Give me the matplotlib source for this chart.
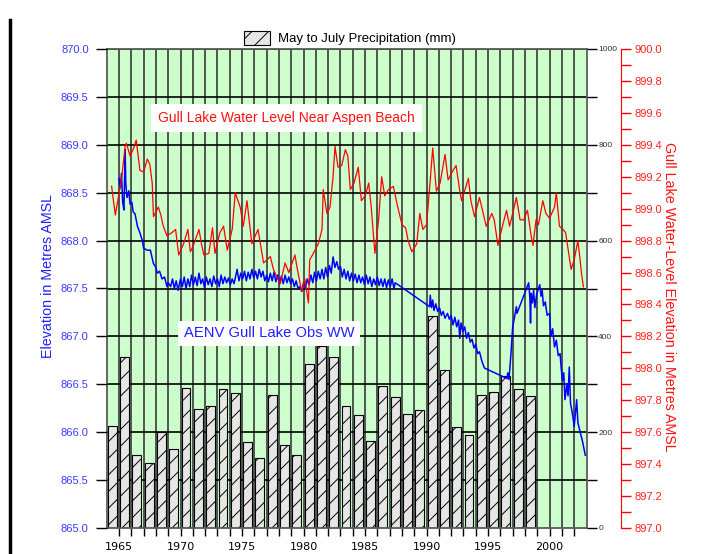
import matplotlib
matplotlib.use("Agg")
import matplotlib.pyplot as plt
from matplotlib.patches import Patch
from matplotlib.lines import Line2D
import numpy as np

plt.rcParams['font.family'] = ['Liberation Sans', 'DejaVu Sans']
plt.rcParams['hatch.linewidth'] = 0.7

# May to July precipitation (mm), one bar per year
precip_years = list(range(1964, 1999))
precip_mm = [213, 358, 152, 135, 201, 164, 292, 249, 255, 290,
             282, 179, 146, 278, 173, 152, 342, 379, 358, 255,
             236, 182, 297, 273, 237, 246, 443, 330, 211, 194,
             277, 284, 317, 291, 276]

# AENV Gull Lake Obs WW (left axis, m AMSL)
obs_year = [1965.0, 1965.1, 1965.2, 1965.3, 1965.4, 1965.5, 1965.55, 1965.65, 1965.8, 1965.9,
            1966.05, 1966.15, 1966.3, 1966.5, 1966.7, 1966.9, 1967.0, 1967.3, 1967.55, 1967.8,
            1968.0, 1968.1, 1968.3, 1968.5, 1968.7, 1968.9, 1969.0, 1969.2, 1969.35, 1969.5,
            1969.65, 1969.8, 1970.0, 1970.15, 1970.3, 1970.45, 1970.6, 1970.75, 1970.9, 1971.05,
            1971.2, 1971.35, 1971.5, 1971.65, 1971.8, 1971.95, 1972.1, 1972.25, 1972.4, 1972.55,
            1972.7, 1972.85, 1973.0, 1973.15, 1973.3, 1973.45, 1973.6, 1973.75, 1973.9, 1974.05,
            1974.2, 1974.35, 1974.6, 1974.75, 1974.9, 1975.05, 1975.2, 1975.35, 1975.5, 1975.65,
            1975.8, 1975.95, 1976.1, 1976.25, 1976.4, 1976.55, 1976.7, 1976.85, 1977.0, 1977.15,
            1977.3, 1977.45, 1977.6, 1977.75, 1977.9, 1978.05, 1978.2, 1978.35, 1978.5, 1978.65,
            1978.8, 1978.95, 1979.1, 1979.25, 1979.4, 1979.55, 1979.7, 1979.85, 1980.0, 1980.15,
            1980.3, 1980.45, 1980.6, 1980.75, 1980.9, 1981.05, 1981.2, 1981.35, 1981.5, 1981.65,
            1981.8, 1981.95, 1982.1, 1982.25, 1982.4, 1982.55, 1982.7, 1982.85, 1983.0, 1983.15,
            1983.3, 1983.45, 1983.6, 1983.75, 1983.9, 1984.05, 1984.2, 1984.35, 1984.5, 1984.65,
            1984.8, 1984.95, 1985.1, 1985.25, 1985.4, 1985.55, 1985.7, 1985.85, 1986.0, 1986.15,
            1986.3, 1986.45, 1986.6, 1986.75, 1986.9, 1987.05, 1987.2, 1987.35, 1987.45,
            1990.25, 1990.3, 1990.4, 1990.5, 1990.6, 1990.75, 1990.9, 1991.05, 1991.2, 1991.35,
            1991.5, 1991.7, 1991.85, 1992.0, 1992.15, 1992.3, 1992.45, 1992.6, 1992.7, 1992.8,
            1992.95, 1993.1, 1993.25, 1993.4, 1993.55, 1993.7, 1993.85, 1994.0, 1994.15, 1994.3,
            1994.5, 1994.7,
            1996.55, 1996.6, 1996.7, 1996.85, 1997.0, 1997.15, 1997.3, 1997.35,
            1998.3, 1998.4, 1998.45, 1998.5, 1998.6, 1998.7, 1998.8, 1998.95, 1999.1, 1999.2,
            1999.3, 1999.4, 1999.5, 1999.65, 1999.8, 2000.0, 2000.1, 2000.25, 2000.4, 2000.55,
            2000.7, 2000.85, 2000.95, 2001.05, 2001.15, 2001.25, 2001.4, 2001.5, 2001.6, 2001.7,
            2001.85, 2002.0, 2002.1, 2002.2, 2002.3, 2002.45, 2002.6, 2002.7, 2002.9]
obs_level = [868.65, 868.55, 868.70, 868.40, 868.32, 868.95, 868.60, 868.45, 868.52, 868.38,
             868.40, 868.30, 868.28, 868.15, 868.08, 868.00, 867.92, 867.90, 867.90, 867.76,
             867.72, 867.66, 867.68, 867.60, 867.62, 867.52, 867.56, 867.52, 867.60, 867.50,
             867.58, 867.48, 867.60, 867.52, 867.62, 867.50, 867.60, 867.52, 867.64, 867.54,
             867.62, 867.53, 867.66, 867.55, 867.60, 867.51, 867.62, 867.54, 867.60, 867.52,
             867.63, 867.55, 867.60, 867.52, 867.64, 867.55, 867.62, 867.56, 867.61, 867.54,
             867.60, 867.55, 867.70, 867.58, 867.66, 867.60, 867.68, 867.58, 867.67, 867.60,
             867.70, 867.61, 867.68, 867.60, 867.70, 867.62, 867.68, 867.58, 867.64, 867.57,
             867.66, 867.58, 867.67, 867.57, 867.64, 867.55, 867.63, 867.55, 867.64, 867.56,
             867.62, 867.55, 867.60, 867.52, 867.58, 867.50, 867.52, 867.47, 867.56, 867.50,
             867.60, 867.54, 867.64, 867.56, 867.67, 867.58, 867.68, 867.60, 867.70, 867.60,
             867.72, 867.62, 867.74, 867.66, 867.83, 867.72, 867.78, 867.70, 867.73, 867.62,
             867.70, 867.60, 867.68, 867.58, 867.66, 867.58, 867.65, 867.56, 867.64, 867.56,
             867.62, 867.54, 867.64, 867.55, 867.62, 867.52, 867.60, 867.54, 867.62, 867.53,
             867.60, 867.52, 867.60, 867.51, 867.59, 867.52, 867.60, 867.50, 867.56,
             867.31, 867.43, 867.30, 867.38, 867.27, 867.34, 867.26, 867.30, 867.22, 867.26,
             867.19, 867.24, 867.18, 867.22, 867.12, 867.20, 867.10, 867.17, 866.98, 867.14,
             867.05, 867.10, 866.98, 867.04, 866.94, 866.97, 866.88, 866.92, 866.82, 866.84,
             866.74, 866.67,
             866.56, 866.62, 866.55, 866.80, 867.10, 867.20, 867.31, 867.24,
             867.56, 867.40, 867.14, 867.45, 867.35, 867.48, 867.30, 867.44, 867.50, 867.54,
             867.42, 867.48, 867.32, 867.36, 867.22, 867.24, 867.00, 867.08, 866.89, 866.96,
             866.80, 866.82, 866.66, 866.54, 866.62, 866.34, 866.50, 866.38, 866.68, 866.30,
             866.20, 866.06, 866.20, 866.34, 866.10, 866.02, 865.94, 865.89, 865.76]

# Gull Lake water level near Aspen Beach (right axis, m AMSL)
lake_year = [1964.4, 1964.7, 1964.9, 1965.2, 1965.5, 1965.6, 1965.9, 1966.2, 1966.4, 1966.7,
             1967.0, 1967.3, 1967.5, 1967.7, 1967.8, 1968.0, 1968.2, 1968.4, 1968.6, 1968.9,
             1969.3, 1969.6, 1969.85, 1970.25, 1970.6, 1970.8, 1971.0, 1971.5, 1971.7, 1971.9,
             1972.3, 1972.6, 1972.8, 1973.2, 1973.5, 1973.8, 1974.2, 1974.45, 1974.85, 1975.1,
             1975.4, 1975.8, 1976.3, 1976.75, 1977.3, 1977.55, 1978.1, 1978.5, 1978.8, 1979.3,
             1979.5, 1979.85, 1980.1, 1980.4, 1980.5, 1980.8, 1981.2, 1981.5, 1981.6, 1981.9,
             1982.15, 1982.4, 1982.56, 1982.8, 1983.1, 1983.4, 1983.6, 1983.8, 1984.1, 1984.45,
             1984.7, 1985.0, 1985.3, 1985.5, 1985.8, 1986.1, 1986.35, 1986.6, 1986.9, 1987.3,
             1987.6, 1988.0, 1988.3, 1988.5, 1988.8, 1989.2, 1989.45, 1989.7, 1990.0, 1990.3,
             1990.5, 1990.8, 1991.1, 1991.5, 1991.75, 1992.15, 1992.4, 1992.7, 1992.85, 1993.4,
             1993.6, 1993.9, 1994.3, 1994.85, 1995.3, 1995.5, 1995.8, 1996.1, 1996.5, 1996.75,
             1997.3, 1997.6, 1997.9, 1998.2, 1998.5, 1998.65, 1998.9, 1999.1, 1999.45, 1999.7,
             2000.0, 2000.4, 2000.55, 2000.8, 2001.1, 2001.3, 2001.75, 2002.0, 2002.3, 2002.45,
             2002.6, 2002.75]
lake_level = [899.14, 898.96, 899.05, 899.18, 899.39, 899.41, 899.33, 899.38, 899.43, 899.24,
              899.23, 899.31, 899.28, 899.16, 898.95, 898.98, 899.01, 898.96, 898.89, 898.83,
              898.85, 898.87, 898.71, 898.78, 898.87, 898.73, 898.76, 898.87, 898.78, 898.71,
              898.72, 898.88, 898.72, 898.85, 898.89, 898.74, 898.87, 899.10, 899.01, 898.89,
              899.05, 898.78, 898.87, 898.66, 898.70, 898.62, 898.53, 898.66, 898.60, 898.71,
              898.62, 898.48, 898.56, 898.41, 898.68, 898.72, 898.78, 898.87, 899.12, 898.97,
              899.01, 899.20, 899.39, 899.26, 899.27, 899.37, 899.33, 899.12, 899.16, 899.26,
              899.05, 899.08, 899.16, 899.01, 898.72, 898.93, 899.20, 899.08, 899.12, 899.14,
              899.03, 898.90, 898.88, 898.80, 898.73, 898.78, 898.97, 898.87, 898.90, 899.18,
              899.38, 899.11, 899.16, 899.34, 899.18, 899.24, 899.27, 899.11, 899.05, 899.19,
              899.05, 898.95, 899.07, 898.89, 898.97, 898.93, 898.77, 898.87, 898.99, 898.89,
              899.07, 898.93, 898.93, 898.99, 898.83, 898.77, 898.93, 898.90, 899.05, 898.97,
              898.94, 899.01, 899.10, 898.89, 898.87, 898.85, 898.62, 898.68, 898.80, 898.70,
              898.59, 898.51]

W, H = 707, 554
fig = plt.figure(figsize=(W / 100, H / 100), dpi=100)
fig.patch.set_facecolor('white')

left, right, top, bottom = 106.7, 586.5, 49, 528
rect = [left / W, 1 - bottom / H, (right - left) / W, (bottom - top) / H]

# bar axis (drawn at the back, holds the green background + grid)
axb = fig.add_axes(rect)
axb.set_facecolor('#ccffcc')
axb.set_xlim(1964, 2003)
axb.set_ylim(0, 1000)

for yr in range(1965, 2003):
    axb.axvline(yr, color='#2a2a2a', lw=1.1, zorder=1)
for mm in range(100, 1001, 100):
    axb.axhline(mm, color='black', lw=1.2, zorder=1)

axb.bar(np.array(precip_years) + 0.45, precip_mm, width=0.72, color='#e6e6e6',
        edgecolor='black', hatch='//', lw=0.8, zorder=2)

axb.yaxis.tick_right()
axb.set_yticks(range(0, 1001, 200))
axb.set_yticks(range(100, 1000, 200), minor=True)
axb.tick_params(axis='y', which='both', direction='out', length=7, width=1,
                labelsize=6, labelcolor='#333333', pad=1.5)
axb.tick_params(axis='y', which='both', labelleft=False, left=False)

axb.set_xticks(range(1965, 2001, 5))
axb.set_xticks(range(1965, 2003), minor=True)
axb.tick_params(axis='x', which='both', direction='out', length=6, width=1, pad=4)
for lab in axb.get_xticklabels():
    lab.set_family('DejaVu Sans')
    lab.set_fontsize(8)

for sp in axb.spines.values():
    sp.set_color('#5a5a5a')
    sp.set_linewidth(1.3)

# left axis: observation well
ax = fig.add_axes(rect, sharex=axb)
ax.patch.set_visible(False)
ax.set_ylim(865, 870)
ax.plot(obs_year, obs_level, color='#0000ff', lw=1.1, zorder=3)
ax.set_yticks(np.arange(865, 870.01, 0.5))
ax.set_yticklabels([f'{v:.1f}' for v in np.arange(865, 870.01, 0.5)])
ax.tick_params(axis='y', direction='out', length=8, width=1, labelsize=8,
               labelcolor='#3c3cff', pad=5)
ax.tick_params(axis='x', which='both', bottom=False, labelbottom=False)
for sp in ax.spines.values():
    sp.set_visible(False)

# right axis: lake level
axr = fig.add_axes(rect, sharex=axb)
axr.patch.set_visible(False)
axr.set_ylim(897, 900)
axr.plot(lake_year, lake_level, color='#ff0000', lw=0.9, zorder=3)
axr.yaxis.tick_right()
axr.spines['right'].set_position(('axes', 1.072))
axr.spines['right'].set_color('#ff0000')
for s in ['left', 'top', 'bottom']:
    axr.spines[s].set_visible(False)
axr.set_yticks(np.arange(897, 900.01, 0.2))
axr.set_yticklabels([f'{v:.1f}' for v in np.arange(897, 900.01, 0.2)])
axr.set_yticks(np.arange(897.1, 900, 0.2), minor=True)
axr.tick_params(axis='y', which='both', direction='out', length=7, width=1,
                color='#ff0000', labelsize=8, labelcolor='#ff2020', pad=3)
axr.tick_params(axis='x', which='both', bottom=False, labelbottom=False)

axr.text(1978.6, 899.57, 'Gull Lake Water Level Near Aspen Beach', color='#ff1010',
         fontsize=10, ha='center', va='center', zorder=10,
         bbox=dict(facecolor='white', edgecolor='none', pad=5))
axr.text(1977.2, 898.22, 'AENV Gull Lake Obs WW', color='#2020ff',
         fontsize=10.6, ha='center', va='center', zorder=10,
         bbox=dict(facecolor='white', edgecolor='none', pad=4))

# axis titles
fig.text(48 / W, 1 - 276 / H, 'Elevation in Metres AMSL', rotation=90, color='#2020ff',
         fontsize=10.3, ha='center', va='center')
fig.text(669 / W, 1 - 297 / H, 'Gull Lake Water-Level Elevation in Metres AMSL',
         rotation=270, color='#ff1010', fontsize=10.3, ha='center', va='center')

# legend above the plot
handle = Patch(facecolor='#e6e6e6', edgecolor='black', hatch='//', lw=0.8)
fig.legend([handle], ['May to July Precipitation (mm)'], loc='center',
           bbox_to_anchor=(350 / W, 1 - 38 / H), frameon=False, fontsize=9.5,
           handlelength=2.0, handleheight=1.3, handletextpad=0.6)

# frame line on the left side of the page
fig.add_artist(Line2D([10 / W, 10 / W], [0, 1 - 20 / H], color='black', lw=2.5))

fig.savefig('out.png', dpi=100)
